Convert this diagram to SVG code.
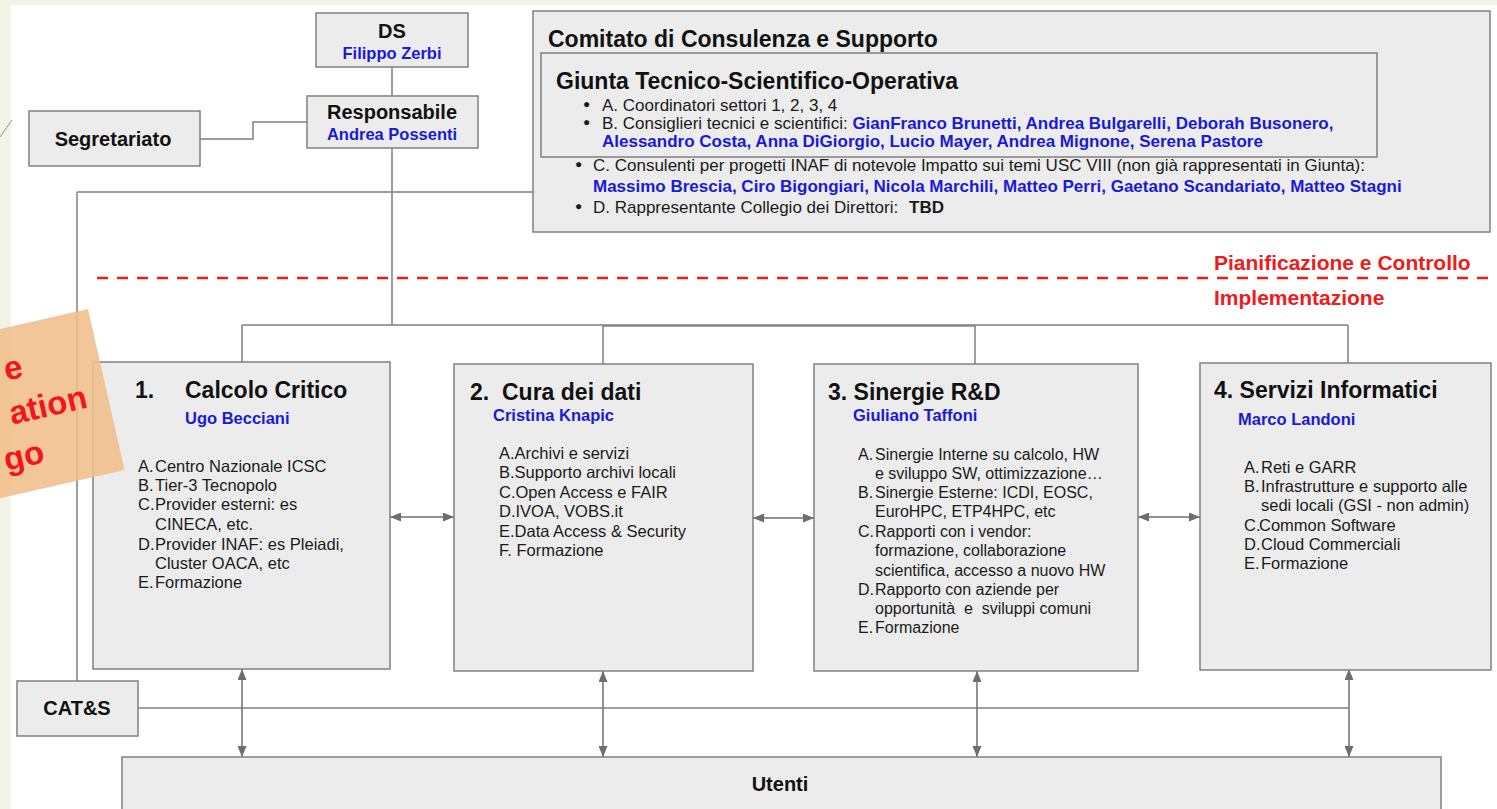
<svg xmlns="http://www.w3.org/2000/svg" width="1497" height="809" viewBox="0 0 1497 809">
<style>
text{font-family:"Liberation Sans",Arial,sans-serif}
.box{fill:#ececec;stroke:#808080;stroke-width:1.5}
.ln{stroke:#7f7f7f;stroke-width:1.5;fill:none}
.arr{stroke:#6e6e6e;stroke-width:1.5;fill:none;marker-start:url(#ah);marker-end:url(#ah)}
.h{font-weight:bold;fill:#111;font-size:23px}
.hs{font-weight:bold;fill:#111;font-size:20px}
.n{font-weight:bold;fill:#1a1ad6;font-size:16.5px}
.i{fill:#1a1a1a;font-size:16.5px}
.i3{fill:#1a1a1a;font-size:16px}
.c{fill:#1a1a1a;font-size:17px}
.bl{fill:#1a1a1a;font-size:12px}
.cb{font-weight:bold;fill:#1a1ad6}
.r{fill:#ee1b1b;font-weight:bold;font-size:21px}
.st{font-size:33px;font-weight:bold;fill:#f5141a}
</style>
<defs>
<marker id="ah" viewBox="0 0 11 9" refX="11" refY="4.5" markerWidth="11" markerHeight="9" markerUnits="userSpaceOnUse" orient="auto-start-reverse">
<path d="M0,0 L11,4.5 L0,9 z" fill="#6e6e6e"/>
</marker>
</defs>
<rect x="0" y="0" width="1497" height="809" fill="#f2f4e8"/>
<rect x="11" y="5" width="1486" height="804" fill="#ffffff"/>
<line x1="0" y1="137" x2="12" y2="120" stroke="#a09070" stroke-width="1"/>

<g id="connectors">
<line class="ln" x1="392" y1="67" x2="392" y2="96"/>
<polyline class="ln" points="200,139 253,139 253,122 307,122"/>
<line class="ln" x1="392" y1="148" x2="392" y2="325"/>
<line class="ln" x1="77" y1="192" x2="533" y2="192"/>
<line class="ln" x1="77" y1="192" x2="77" y2="681"/>
<line class="ln" x1="242" y1="325" x2="1348" y2="325"/>
<line class="ln" x1="603" y1="326" x2="975" y2="326" stroke-width="2.5"/>
<line class="ln" x1="242" y1="325" x2="242" y2="362"/>
<line class="ln" x1="603" y1="325" x2="603" y2="364"/>
<line class="ln" x1="975" y1="325" x2="975" y2="364"/>
<line class="ln" x1="1348" y1="325" x2="1348" y2="363"/>
<line class="ln" x1="138" y1="708" x2="1348" y2="708"/>
<line class="arr" x1="242" y1="669" x2="242" y2="757"/>
<line class="arr" x1="603" y1="671" x2="603" y2="757"/>
<line class="arr" x1="977" y1="671" x2="977" y2="757"/>
<line class="arr" x1="1349" y1="669" x2="1349" y2="757"/>
<line class="arr" x1="390" y1="517" x2="454" y2="517"/>
<line class="arr" x1="753" y1="518" x2="814" y2="518"/>
<line class="arr" x1="1138" y1="517" x2="1200" y2="517"/>
<line x1="97" y1="278" x2="1497" y2="278" stroke="#ee1b1b" stroke-width="2.5" stroke-dasharray="11 9"/>
</g>

<g id="ds">
<rect class="box" x="316" y="13" width="152" height="54"/>
<text class="hs" x="392" y="38" text-anchor="middle">DS</text>
<text class="n" x="392" y="59" text-anchor="middle">Filippo Zerbi</text>
</g>

<g id="responsabile">
<rect class="box" x="307" y="96" width="171" height="52"/>
<text class="hs" x="392" y="119" text-anchor="middle" font-size="19">Responsabile</text>
<text class="n" x="392" y="140" text-anchor="middle">Andrea Possenti</text>
</g>

<g id="segretariato">
<rect class="box" x="29" y="111" width="171" height="55"/>
<text class="hs" x="113" y="146" text-anchor="middle">Segretariato</text>
</g>

<g id="comitato">
<rect class="box" x="533" y="11" width="957" height="221"/>
<text class="h" x="548" y="47">Comitato di Consulenza e Supporto</text>
<rect class="box" x="541" y="53" width="836" height="104"/>
<text class="h" x="556" y="89">Giunta Tecnico-Scientifico-Operativa</text>
<text class="bl" x="583" y="108">●</text>
<text class="c" x="602" y="111">A. Coordinatori settori 1, 2, 3, 4</text>
<text class="bl" x="583" y="126">●</text>
<text class="c" x="602" y="129">B. Consiglieri tecnici e scientifici: <tspan class="cb">GianFranco Brunetti, Andrea Bulgarelli, Deborah Busonero,</tspan></text>
<text class="c"><tspan class="cb" x="602" y="147">Alessandro Costa, Anna DiGiorgio, Lucio Mayer, Andrea Mignone, Serena Pastore</tspan></text>
<text class="bl" x="575" y="168">●</text>
<text class="c" x="593" y="171">C. Consulenti per progetti INAF di notevole Impatto sui temi USC VIII (non già rappresentati in Giunta):</text>
<text class="c"><tspan class="cb" x="593" y="192">Massimo Brescia, Ciro Bigongiari, Nicola Marchili, Matteo Perri, Gaetano Scandariato, Matteo Stagni</tspan></text>
<text class="bl" x="575" y="210">●</text>
<text class="c" x="593" y="213">D. Rappresentante Collegio dei Direttori:</text>
<text class="c" x="909" y="213" font-weight="bold" fill="#111">TBD</text>
</g>

<g id="labels">
<text class="r" x="1214" y="270">Pianificazione e Controllo</text>
<text class="r" x="1214" y="305">Implementazione</text>
</g>

<g id="box1">
<rect class="box" x="93" y="362" width="297" height="307"/>
<text class="h" x="135" y="398">1.</text>
<text class="h" x="185" y="398">Calcolo Critico</text>
<text class="n" x="185" y="424">Ugo Becciani</text>
<text class="i">
<tspan x="138" y="472">A.</tspan><tspan x="155" y="472">Centro Nazionale ICSC</tspan>
<tspan x="138" y="491">B.</tspan><tspan x="155" y="491">Tier-3 Tecnopolo</tspan>
<tspan x="138" y="510">C.</tspan><tspan x="155" y="510">Provider esterni: es</tspan>
<tspan x="155" y="530">CINECA, etc.</tspan>
<tspan x="138" y="550">D.</tspan><tspan x="155" y="550">Provider INAF: es Pleiadi,</tspan>
<tspan x="155" y="569">Cluster OACA, etc</tspan>
<tspan x="138" y="588">E.</tspan><tspan x="155" y="588">Formazione</tspan>
</text>
</g>

<g id="box2">
<rect class="box" x="454" y="364" width="299" height="307"/>
<text class="h" x="470" y="400">2.</text>
<text class="h" x="502" y="400">Cura dei dati</text>
<text class="n" x="493" y="421">Cristina Knapic</text>
<text class="i">
<tspan x="499" y="459">A.Archivi e servizi</tspan>
<tspan x="499" y="478">B.Supporto archivi locali</tspan>
<tspan x="499" y="498">C.Open Access e FAIR</tspan>
<tspan x="499" y="517">D.IVOA, VOBS.it</tspan>
<tspan x="499" y="537">E.Data Access &amp; Security</tspan>
<tspan x="499" y="556">F. Formazione</tspan>
</text>
</g>

<g id="box3">
<rect class="box" x="814" y="364" width="324" height="307"/>
<text class="h" x="828" y="400">3. Sinergie R&amp;D</text>
<text class="n" x="853" y="421">Giuliano Taffoni</text>
<text class="i3">
<tspan x="858" y="460">A.</tspan><tspan x="875" y="460">Sinergie Interne su calcolo, HW</tspan>
<tspan x="875" y="479">e sviluppo SW, ottimizzazione…</tspan>
<tspan x="858" y="498">B.</tspan><tspan x="875" y="498">Sinergie Esterne: ICDI, EOSC,</tspan>
<tspan x="875" y="517">EuroHPC, ETP4HPC, etc</tspan>
<tspan x="858" y="537">C.</tspan><tspan x="875" y="537">Rapporti con i vendor:</tspan>
<tspan x="875" y="556">formazione, collaborazione</tspan>
<tspan x="875" y="576">scientifica, accesso a nuovo HW</tspan>
<tspan x="858" y="595">D.</tspan><tspan x="875" y="595">Rapporto con aziende per</tspan>
<tspan x="858" y="633">E.</tspan><tspan x="875" y="633">Formazione</tspan>
</text>
<text class="i3" x="875" y="614" xml:space="preserve">opportunità  e  sviluppi comuni</text>
</g>

<g id="box4">
<rect class="box" x="1200" y="363" width="291" height="307"/>
<text class="h" x="1214" y="398">4. Servizi Informatici</text>
<text class="n" x="1238" y="425">Marco Landoni</text>
<text class="i">
<tspan x="1244" y="473">A.</tspan><tspan x="1261" y="473">Reti e GARR</tspan>
<tspan x="1244" y="492">B.</tspan><tspan x="1261" y="492">Infrastrutture e supporto alle</tspan>
<tspan x="1261" y="511">sedi locali (GSI - non admin)</tspan>
<tspan x="1244" y="531">C.</tspan><tspan x="1259" y="531">Common Software</tspan>
<tspan x="1244" y="550">D.</tspan><tspan x="1261" y="550">Cloud Commerciali</tspan>
<tspan x="1244" y="569">E.</tspan><tspan x="1261" y="569">Formazione</tspan>
</text>
</g>

<g id="cats">
<rect class="box" x="17" y="681" width="121" height="55"/>
<text class="hs" x="77" y="715" text-anchor="middle" font-size="19">CAT&amp;S</text>
</g>

<g id="utenti">
<rect class="box" x="122" y="757" width="1319" height="60"/>
<text class="hs" x="780" y="791" text-anchor="middle">Utenti</text>
</g>

<g id="sticker" transform="translate(88,309) rotate(-12.8)">
<rect x="-240" y="0" width="240" height="165" fill="#f0be8a" fill-opacity="0.88"/>
<text class="st" x="-77" y="52" text-anchor="end">e</text>
<text class="st" x="-21" y="96" text-anchor="end">ation</text>
<text class="st" x="-75" y="140" text-anchor="end">go</text>
</g>
</svg>
